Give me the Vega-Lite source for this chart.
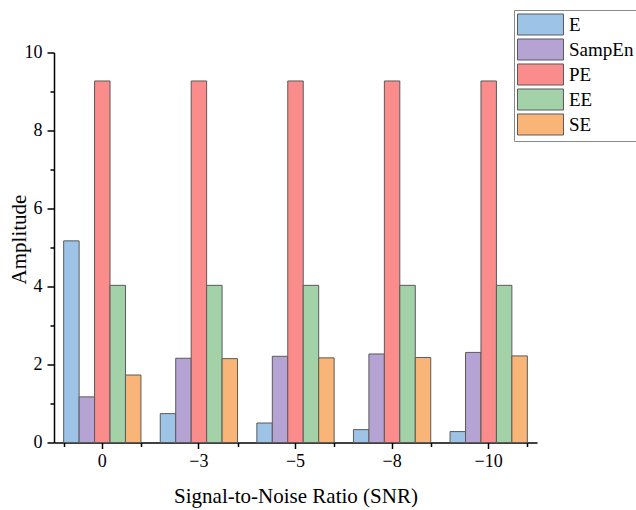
{
  "$schema": "https://vega.github.io/schema/vega-lite/v6.json",
  "autosize": {"type": "none"},
  "padding": {"left": 54, "top": 52.5, "right": 99, "bottom": 67.5},
  "width": 483,
  "height": 390,
  "background": "white",
  "config": {
    "view": {"stroke": null},
    "font": "Liberation Serif",
    "axis": {"grid": false, "domainColor": "#000", "domainWidth": 1.5, "tickColor": "#000", "tickWidth": 1.5, "labelColor": "#000", "titleColor": "#000", "labelFont": "Liberation Serif", "titleFont": "Liberation Serif", "titleFontWeight": "normal"},
    "legend": {"labelFont": "Liberation Serif", "labelFontSize": 19}
  },
  "data": {
    "values": [
      {"SNR": "0", "Method": "E", "Amplitude": 5.17},
      {"SNR": "0", "Method": "SampEn", "Amplitude": 1.17},
      {"SNR": "0", "Method": "PE", "Amplitude": 9.27},
      {"SNR": "0", "Method": "EE", "Amplitude": 4.03},
      {"SNR": "0", "Method": "SE", "Amplitude": 1.73},
      {"SNR": "−3", "Method": "E", "Amplitude": 0.74},
      {"SNR": "−3", "Method": "SampEn", "Amplitude": 2.16},
      {"SNR": "−3", "Method": "PE", "Amplitude": 9.27},
      {"SNR": "−3", "Method": "EE", "Amplitude": 4.03},
      {"SNR": "−3", "Method": "SE", "Amplitude": 2.15},
      {"SNR": "−5", "Method": "E", "Amplitude": 0.5},
      {"SNR": "−5", "Method": "SampEn", "Amplitude": 2.21},
      {"SNR": "−5", "Method": "PE", "Amplitude": 9.27},
      {"SNR": "−5", "Method": "EE", "Amplitude": 4.03},
      {"SNR": "−5", "Method": "SE", "Amplitude": 2.17},
      {"SNR": "−8", "Method": "E", "Amplitude": 0.33},
      {"SNR": "−8", "Method": "SampEn", "Amplitude": 2.27},
      {"SNR": "−8", "Method": "PE", "Amplitude": 9.27},
      {"SNR": "−8", "Method": "EE", "Amplitude": 4.03},
      {"SNR": "−8", "Method": "SE", "Amplitude": 2.18},
      {"SNR": "−10", "Method": "E", "Amplitude": 0.28},
      {"SNR": "−10", "Method": "SampEn", "Amplitude": 2.31},
      {"SNR": "−10", "Method": "PE", "Amplitude": 9.27},
      {"SNR": "−10", "Method": "EE", "Amplitude": 4.03},
      {"SNR": "−10", "Method": "SE", "Amplitude": 2.22}
    ]
  },
  "resolve": {"axis": {"x": "independent"}},
  "layer": [
    {
      "mark": {"type": "bar", "stroke": "#5a5a5a", "strokeWidth": 1},
      "encoding": {
        "x": {
          "field": "SNR", "type": "nominal",
          "sort": ["0", "−3", "−5", "−8", "−10"],
          "scale": {"paddingInner": 0.2, "paddingOuter": 0.1},
          "axis": {"orient": "bottom", "title": "Signal-to-Noise Ratio (SNR)", "titleFontSize": 21, "titleX": 241.5, "titleY": 59.5, "titleBaseline": "alphabetic", "labelFontSize": 18, "labelAngle": 0, "labelPadding": 4, "tickSize": 6}
        },
        "xOffset": {"field": "Method", "type": "nominal", "sort": ["E", "SampEn", "PE", "EE", "SE"], "scale": {"paddingInner": 0, "paddingOuter": 0}},
        "y": {
          "field": "Amplitude", "type": "quantitative",
          "scale": {"domain": [0, 10], "nice": false},
          "axis": {
            "title": "Amplitude", "titleFontSize": 21, "titleX": -35, "titleY": 186.5, "titleBaseline": "middle", "titleAngle": 270,
            "values": [0, 1, 2, 3, 4, 5, 6, 7, 8, 9, 10],
            "labelExpr": "datum.value % 2 === 0 ? datum.label : ''",
            "labelFontSize": 18, "labelPadding": 5,
            "tickSize": {"condition": {"test": "datum.value % 2 === 1", "value": 4}, "value": 7}
          }
        },
        "color": {
          "field": "Method", "type": "nominal",
          "sort": ["E", "SampEn", "PE", "EE", "SE"],
          "scale": {"domain": ["E", "SampEn", "PE", "EE", "SE"], "range": ["#9dc3e6", "#b4a3d3", "#fa8c8c", "#a3d2a9", "#f9b577"]},
          "legend": {
            "title": null, "orient": "none", "legendX": 460, "legendY": -42.5,
            "symbolType": "M-1,-0.955H3.18V0.955H-1Z", "symbolSize": 484,
            "symbolStrokeColor": "#5a5a5a", "symbolStrokeWidth": 1, "symbolOpacity": 1,
            "labelFont": "Liberation Serif", "labelFontSize": 19, "labelColor": "#000",
            "rowPadding": -4, "labelOffset": 29, "padding": 3,
            "strokeColor": "#888", "fillColor": "white"
          }
        }
      }
    },
    {
      "mark": {"type": "rule", "opacity": 0},
      "encoding": {
        "x": {
          "field": "SNR", "type": "nominal",
          "sort": ["0", "−3", "−5", "−8", "−10"],
          "axis": {"orient": "bottom", "tickBand": "extent", "labels": false, "domain": false, "title": null, "tickSize": 4}
        }
      }
    }
  ]
}
